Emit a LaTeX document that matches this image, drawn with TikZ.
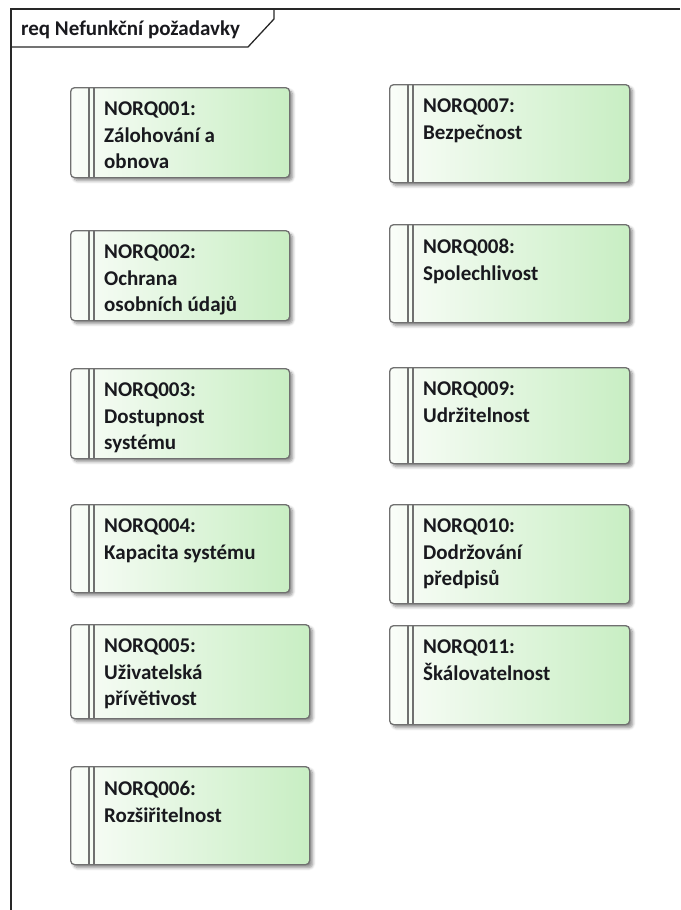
\documentclass[tikz,border=0pt]{standalone}
\usepackage{fontspec}
\setmainfont{Carlito}
\usetikzlibrary{shadows.blur}

\definecolor{reqleft}{RGB}{250,253,249}
\definecolor{reqright}{RGB}{200,238,195}
\definecolor{boxline}{RGB}{112,112,112}
\definecolor{frameline}{RGB}{40,40,40}
\definecolor{txt}{RGB}{25,25,30}

\tikzset{
  reqbox/.style={draw=boxline, line width=1.3pt, rounded corners=4pt,
    left color=reqleft, right color=reqright, anchor=north west, inner sep=0pt,
    blur shadow={shadow xshift=3pt, shadow yshift=-3pt, shadow blur steps=6,
      shadow opacity=45, shadow blur radius=3pt}},
  reqbar/.style={draw=boxline, line width=1.1pt},
  reqtext/.style={anchor=north west, inner sep=0pt, align=left, text=txt,
    font=\fontsize{21}{26.5}\selectfont\bfseries},
  frame/.style={draw=frameline, line width=1.3pt},
}

% a requirement box: name, top-left corner, width, height, text
\newcommand\reqitem[5]{%
  \node[reqbox, minimum width=#3pt, minimum height=#4pt] (#1) at (#2) {};
  \draw[reqbar] ([xshift=19pt]#1.north west) -- ([xshift=19pt]#1.south west);
  \draw[reqbar] ([xshift=24pt]#1.north west) -- ([xshift=24pt]#1.south west);
  \node[reqtext] (#1t) at ([shift={(34,15)}]#1.north west) {#5};
}

\begin{document}
\begin{tikzpicture}[x=1pt, y=-1pt]
\useasboundingbox (0,0) rectangle (680,910);

% diagram frame with its name tab
\coordinate (fTR) at (680,9);
\coordinate (fTL) at (11,9);
\coordinate (fBL) at (11,910);
\coordinate (tabA) at (274,9);
\coordinate (tabB) at (274,19);
\coordinate (tabC) at (248,47);
\coordinate (tabD) at (11,47);
\draw[frame] (fTR) -- (fTL) -- (fBL);
\draw[frame] (tabA) -- (tabB) -- (tabC) -- (tabD);
\node[anchor=base west, inner sep=0pt, text=txt,
  font=\fontsize{21}{24}\selectfont\bfseries] (title) at (21,35) {req Nefunkční požadavky};

% left column
\reqitem{b1}{70,87}{219}{90}{NORQ001:\\Zálohování a\\obnova}
\reqitem{b2}{70,230}{219}{90}{NORQ002:\\Ochrana\\osobních údajů}
\reqitem{b3}{70,368}{219}{90}{NORQ003:\\Dostupnost\\systému}
\reqitem{b4}{70,504}{219}{88}{NORQ004:\\Kapacita systému}
\reqitem{b5}{70,624}{239}{94}{NORQ005:\\Uživatelská\\přívětivost}
\reqitem{b6}{70,766}{239}{98}{NORQ006:\\Rozšiřitelnost}

% right column
\reqitem{b7}{389,84}{240}{98}{NORQ007:\\Bezpečnost}
\reqitem{b8}{389,224}{240}{98}{NORQ008:\\Spolechlivost}
\reqitem{b9}{389,367}{240}{96}{NORQ009:\\Udržitelnost}
\reqitem{b10}{389,504}{240}{99}{NORQ010:\\Dodržování\\předpisů}
\reqitem{b11}{389,625}{240}{99}{NORQ011:\\Škálovatelnost}
\end{tikzpicture}
\end{document}
